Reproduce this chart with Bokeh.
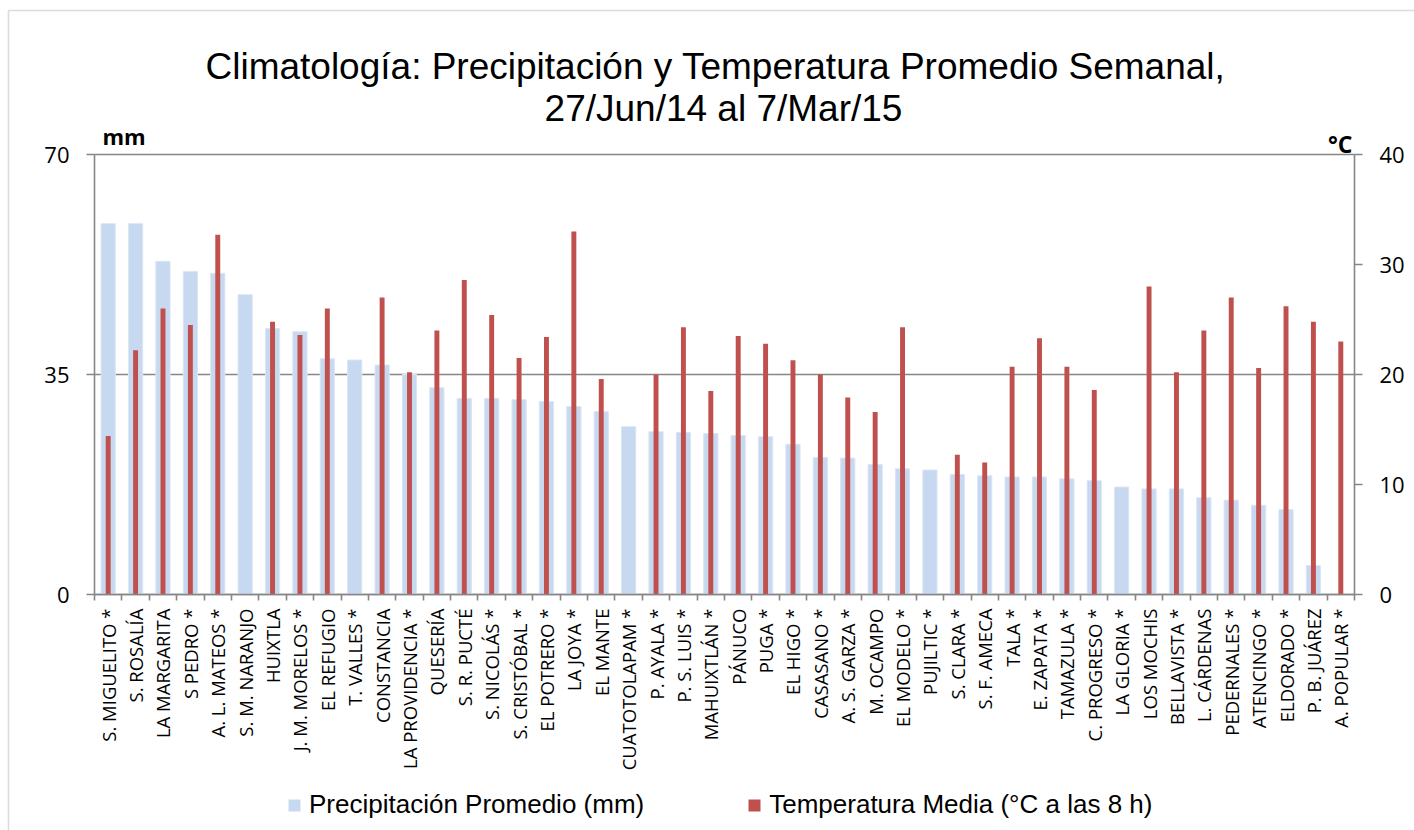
import numpy as np
from bokeh.plotting import figure
from bokeh.models import (ColumnDataSource, Range1d, LinearAxis, FixedTicker,
                          Legend, LegendItem, Label, BoxAnnotation)
from bokeh.embed import file_html
from bokeh.resources import INLINE

# ---------------- data ----------------
stations = [
    "S. MIGUELITO *", "S. ROSALÍA", "LA MARGARITA", "S PEDRO *", "A. L. MATEOS *",
    "S. M. NARANJO", "HUIXTLA", "J. M. MORELOS *", "EL REFUGIO", "T. VALLES *",
    "CONSTANCIA", "LA PROVIDENCIA *", "QUESERÍA", "S. R. PUCTÉ", "S. NICOLÁS *",
    "S. CRISTÓBAL *", "EL POTRERO *", "LA JOYA *", "EL MANTE", "CUATOTOLAPAM *",
    "P. AYALA *", "P. S. LUIS *", "MAHUIXTLÁN *", "PÁNUCO", "PUGA *",
    "EL HIGO *", "CASASANO *", "A. S. GARZA *", "M. OCAMPO", "EL MODELO *",
    "PUJILTIC *", "S. CLARA *", "S. F. AMECA", "TALA *", "E. ZAPATA *",
    "TAMAZULA *", "C. PROGRESO *", "LA GLORIA *", "LOS MOCHIS", "BELLAVISTA *",
    "L. CÁRDENAS", "PEDERNALES *", "ATENCINGO *", "ELDORADO *", "P. B. JUÁREZ",
    "A. POPULAR *",
]
precip_mm = [
    59.0, 59.0, 53.0, 51.4, 51.1, 47.7, 42.3, 41.8, 37.5, 37.3,
    36.5, 35.0, 32.9, 31.2, 31.2, 31.0, 30.7, 29.9, 29.1, 26.7,
    25.9, 25.8, 25.6, 25.3, 25.1, 23.9, 21.8, 21.7, 20.7, 20.0,
    19.8, 19.1, 18.9, 18.7, 18.7, 18.4, 18.1, 17.1, 16.8, 16.8,
    15.4, 15.0, 14.2, 13.5, 4.6, 0.0,
]
temp_c = [
    14.4, 22.2, 26.0, 24.5, 32.7, None, 24.8, 23.6, 26.0, None,
    27.0, 20.2, 24.0, 28.6, 25.4, 21.5, 23.4, 33.0, 19.6, None,
    20.0, 24.3, 18.5, 23.5, 22.8, 21.3, 20.0, 17.9, 16.6, 24.3,
    None, 12.7, 12.0, 20.7, 23.3, 20.7, 18.6, None, 28.0, 20.2,
    24.0, 27.0, 20.6, 26.2, 24.8, 23.0,
]
left_ticks = [0, 35, 70]
right_ticks = [0, 10, 20, 30, 40]
title_1 = "Climatología: Precipitación y Temperatura Promedio Semanal,"
title_2 = "27/Jun/14 al 7/Mar/15"
legend_labels = ["Precipitación Promedio (mm)", "Temperatura Media (°C a las 8 h)"]

# ---------------- layout constants (pixels) ----------------
W, H = 1414, 830
PL, PR, PT, PB = 94, 1354, 154, 594          # plot-area edges on the page
n = len(stations)
Y_MAX, T_MAX = left_ticks[-1], right_ticks[-1]
ux = (PR - PL) / n
uy = (PB - PT) / Y_MAX
ut = (PB - PT) / T_MAX


def dx(px):
    return -0.5 + (px - PL) / ux


def dy(py):
    return (PB - py) / uy


GRAY = "#868686"
BLUE = "#C6D9F1"
RED = "#C0504D"
TICK_FONT = "Open Sans"

xs = list(range(n))
src_p = ColumnDataSource(dict(x=xs, top=precip_mm))
src_t = ColumnDataSource(dict(x=xs, top=[np.nan if v is None else v for v in temp_c]))
src_g = ColumnDataSource(dict(y=left_ticks))

p = figure(width=W, height=H,
           x_range=Range1d(dx(0), dx(W)), y_range=Range1d(dy(H), dy(0)),
           x_axis_type=None, y_axis_type=None,
           output_backend="svg", toolbar_location=None,
           min_border=0, min_border_left=0, min_border_right=0,
           min_border_top=0, min_border_bottom=0)
p.extra_y_ranges = {"temp": Range1d(-(H - PB) / ut, T_MAX + PT / ut)}
p.outline_line_color = None
p.background_fill_color = "white"
p.border_fill_color = "white"
p.xgrid.visible = False
p.ygrid.visible = False

# outer chart border (left/top visible)
p.add_layout(BoxAnnotation(left=dx(8), top=dy(10), right=dx(W + 20), bottom=dy(H + 20),
                           fill_alpha=0, line_color="#8c8c8c", line_width=1.6,
                           level="underlay"))

# horizontal gridlines at the left-axis ticks
p.segment(x0=-0.5, x1=n - 0.5, y0="y", y1="y", source=src_g,
          line_color=GRAY, line_width=1.6, level="underlay")

r_p = p.vbar(x="x", top="top", width=0.52, source=src_p,
             fill_color=BLUE, line_color="#DCE6F2", line_width=1)
r_t = p.vbar(x="x", top="top", width=0.18, source=src_t, y_range_name="temp",
             fill_color=RED, line_color=None)

# square swatches for the legend (NaN point: nothing drawn in the plot)
sw_p = p.scatter(x=[np.nan], y=[np.nan], marker="square", size=12,
                 fill_color=BLUE, line_color=None)
sw_t = p.scatter(x=[np.nan], y=[np.nan], marker="square", size=12,
                 fill_color=RED, line_color=None)

axis_style = dict(axis_line_color=GRAY, axis_line_width=1.6,
                  major_tick_line_color=GRAY, major_tick_line_width=1.6,
                  major_tick_out=8, major_tick_in=0, minor_tick_out=0, minor_tick_in=0,
                  major_label_standoff=17,
                  major_label_text_font=TICK_FONT, major_label_text_font_size="22px",
                  major_label_text_color="black")

yl = LinearAxis(ticker=FixedTicker(ticks=left_ticks), bounds=(0, Y_MAX),
                fixed_location=-0.5, **axis_style)
p.add_layout(yl, "left")

yr = LinearAxis(y_range_name="temp", ticker=FixedTicker(ticks=right_ticks),
                bounds=(0, T_MAX), fixed_location=n - 0.5, **axis_style)
p.add_layout(yr, "right")

bounds = [i - 0.5 for i in range(n + 1)]
xa = LinearAxis(ticker=FixedTicker(ticks=xs, minor_ticks=bounds),
                bounds=(-0.5, n - 0.5), fixed_location=0,
                major_label_overrides={i: s for i, s in enumerate(stations)},
                major_label_orientation=np.pi / 2,
                axis_line_color=GRAY, axis_line_width=1.6,
                major_tick_out=0, major_tick_in=0,
                minor_tick_line_color=GRAY, minor_tick_line_width=1.6,
                minor_tick_out=6, minor_tick_in=0,
                major_label_standoff=8,
                major_label_text_font=TICK_FONT, major_label_text_font_size="18.5px",
                major_label_text_color="black")
p.add_layout(xa, "below")

legend = Legend(items=[LegendItem(label=legend_labels[0], renderers=[sw_p]),
                       LegendItem(label=legend_labels[1], renderers=[sw_t])],
                orientation="horizontal", location=(279, 10),
                label_text_font="Liberation Sans", label_text_font_size="26px",
                label_text_color="black",
                glyph_width=30, glyph_height=30, label_standoff=0, spacing=95,
                border_line_color=None, background_fill_alpha=0,
                padding=2, margin=0)
p.add_layout(legend)

# titles and unit labels
p.add_layout(Label(x=dx(715), y=dy(66), text=title_1, text_align="center",
                   text_baseline="alphabetic", text_font="Liberation Sans",
                   text_font_size="37px", text_color="black"))
p.add_layout(Label(x=dx(723), y=dy(108), text=title_2, text_align="center",
                   text_baseline="alphabetic", text_font="Liberation Sans",
                   text_font_size="37px", text_color="black"))
p.add_layout(Label(x=dx(102), y=dy(135), text="mm", text_align="left",
                   text_baseline="alphabetic", text_font=TICK_FONT,
                   text_font_style="bold", text_font_size="22px", text_color="black"))
p.add_layout(Label(x=dx(1352), y=dy(143), text="°C", text_align="right",
                   text_baseline="alphabetic", text_font=TICK_FONT,
                   text_font_style="bold", text_font_size="23px", text_color="black"))

open("out.html", "w").write(file_html(p, INLINE))
